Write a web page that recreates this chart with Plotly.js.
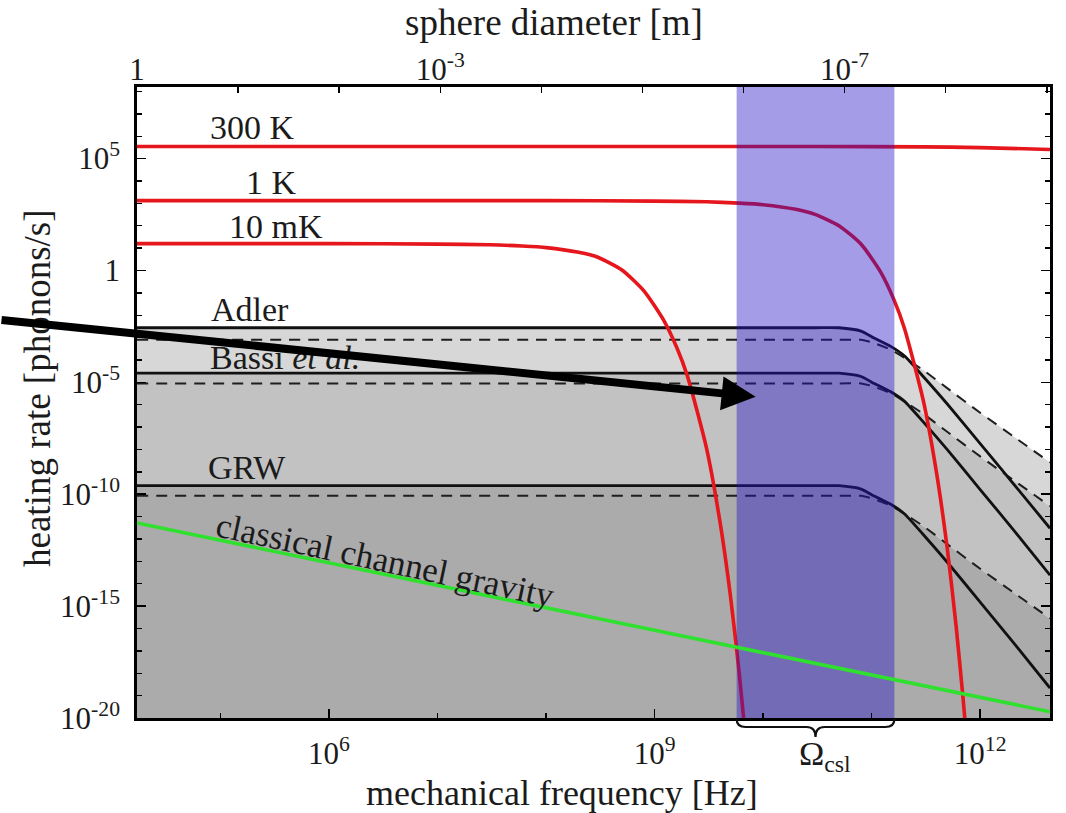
<!DOCTYPE html>
<html>
<head>
<meta charset="utf-8">
<script src="https://cdn.plot.ly/plotly-3.0.1.min.js"></script>
<style>html,body{margin:0;padding:0;background:#fff}#chart{width:1066px;height:813px}</style>
</head>
<body>
<div id="chart"></div>
<script>
// ---------------- data ----------------
// axis spans
const freqSpan = [1.7e4, 4.4e12];     // mechanical frequency [Hz]
const rateSpan = [1e-20, 1.58e8];     // heating rate [phonons/s]
const diamSpan = [1, 9.3e-10];        // sphere diameter [m] (top axis)

// thermal-bath heating curves
const bath300KFreq = [1.7e4, 1e8, 3e10, 3e11, 1e12, 4.4e12];
const bath300KRate = [3.45e5, 3.45e5, 3.45e5, 3.35e5, 3.1e5, 2.55e5];

const bath1KFreq = [1.7e4, 1e6, 1e8, 1e9, 3e9, 6e9, 1e10, 2e10, 3e10, 5e10, 8e10, 1.2e11, 1.6e11, 2e11, 3e11, 4e11, 5e11, 6e11, 7e11, 7.5e11];
const bath1KRate = [1.32e3, 1.32e3, 1.32e3, 1.26e3, 1.17e3, 1.02e3, 8.7e2, 5.4e2, 3.2e2, 1.0e2, 14.8, 0.91, 5.1e-2, 2.7e-3, 1.45e-6, 6.8e-10, 3.1e-13, 1.3e-16, 5.4e-20, 1.1e-21];

const bath10mKFreq = [1.7e4, 1e5, 1e6, 1e7, 3e7, 6e7, 1e8, 2e8, 3e8, 5e8, 8e8, 1.2e9, 1.6e9, 2e9, 3e9, 4e9, 5e9, 6e9, 7e9, 7.5e9];
const bath10mKRate = [15.8, 15.8, 15.8, 15.1, 14.1, 12.3, 10.5, 6.46, 3.89, 1.05, 0.12, 6.5e-3, 3.6e-4, 2.0e-5, 1.2e-8, 6.0e-12, 2.8e-15, 1.2e-18, 5.0e-22, 1.0e-23];

// collapse-model heating (solid and dashed variants share one frequency grid)
const cslFreq = [1.7e4, 1e8, 1e10, 3e10, 5e10, 8e10, 1e11, 1.5e11, 2e11, 3e11, 5e11, 1e12, 2e12, 4.4e12];
const adlerSolid  = [2.75e-3, 2.75e-3, 2.75e-3, 2.75e-3, 2.75e-3, 1.95e-3, 1.10e-3, 4.07e-4, 1.55e-4, 1.78e-5, 1.05e-6, 1.82e-8, 3.16e-10, 3.02e-12];
const adlerDashed = [7.94e-4, 7.94e-4, 7.94e-4, 7.94e-4, 7.94e-4, 7.94e-4, 6.17e-4, 2.88e-4, 1.26e-4, 3.47e-5, 5.37e-6, 4.37e-7, 3.98e-8, 2.63e-9];
const bassiSolid  = [2.57e-5, 2.57e-5, 2.57e-5, 2.57e-5, 2.57e-5, 1.82e-5, 1.02e-5, 3.80e-6, 1.45e-6, 1.66e-7, 9.55e-9, 1.62e-10, 2.75e-12, 2.40e-14];
const bassiDashed = [8.91e-6, 8.91e-6, 8.91e-6, 8.91e-6, 8.91e-6, 8.91e-6, 6.92e-6, 3.24e-6, 1.41e-6, 3.89e-7, 6.03e-8, 4.90e-9, 4.47e-10, 2.95e-11];
const grwSolid    = [2.40e-10, 2.40e-10, 2.40e-10, 2.40e-10, 2.40e-10, 1.70e-10, 9.55e-11, 3.55e-11, 1.35e-11, 1.55e-12, 8.91e-14, 1.51e-15, 2.51e-17, 2.19e-19];
const grwDashed   = [8.51e-11, 8.51e-11, 8.51e-11, 8.51e-11, 8.51e-11, 8.51e-11, 6.61e-11, 3.09e-11, 1.35e-11, 3.72e-12, 5.75e-13, 4.68e-14, 4.27e-15, 2.82e-16];

// classical channel gravity
const gravityFreq = [1.7e4, 1e9, 4.4e12];
const gravityRate = [5.2e-12, 8.3e-17, 1.9e-20];

// frequency window Omega_csl
const cslBand = [5.7e9, 1.62e11];

// tick labels
const freqMajor = [1e6, 1e9, 1e12];
const freqMajorText = ['10<sup>6</sup>', '10<sup>9</sup>', '10<sup>12</sup>'];
const rateMajor = [1e-20, 1e-15, 1e-10, 1e-5, 1, 1e5];
const rateMajorText = ['10<sup>-20</sup>', '10<sup>-15</sup>', '10<sup>-10</sup>', '10<sup>-5</sup>', '1', '10<sup>5</sup>'];
const diamTicks = [1, 1e-1, 1e-2, 1e-3, 1e-4, 1e-5, 1e-6, 1e-7, 1e-8, 1e-9];
const diamTickText = ['1', '', '', '10<sup>-3</sup>', '', '', '', '10<sup>-7</sup>', '', ''];

// ---------------- drawing ----------------
const LOG = Math.log10;
const SERIF = 'Liberation Serif, Times New Roman, serif';
const INK = '#1b1b1b';
const W = 1066, H = 813, M = {l: 137, r: 16, t: 87, b: 95};
const plotW = W - M.l - M.r, plotH = H - M.t - M.b;
const xr = [LOG(freqSpan[0]), LOG(freqSpan[1])];
const yr = [LOG(rateSpan[0]), LOG(rateSpan[1])];

const envelope = (p, q) => p.map((v, i) => Math.max(v, q[i]));
const adlerEnv = envelope(adlerSolid, adlerDashed);
const bassiEnv = envelope(bassiSolid, bassiDashed);
const grwEnv = envelope(grwSolid, grwDashed);

function fillTrace(y, color) {
  return {x: cslFreq, y: y, mode: 'lines', line: {width: 0, shape: 'spline', smoothing: 0.6},
          fill: 'tonexty', fillcolor: color, hoverinfo: 'skip'};
}
function curve(x, y, color, width, dash) {
  return {x: x, y: y, mode: 'lines', hoverinfo: 'skip',
          line: {color: color, width: width, dash: dash || 'solid', shape: 'spline', smoothing: 0.6}};
}

const traces = [
  // floor for the shaded areas
  {x: freqSpan, y: [rateSpan[0], rateSpan[0]], mode: 'lines', line: {width: 0}, hoverinfo: 'skip'},
  fillTrace(grwEnv, '#ababab'),
  fillTrace(bassiEnv, '#c2c2c2'),
  fillTrace(adlerEnv, '#d7d7d7'),
  curve(cslFreq, adlerDashed, '#1e1e1e', 2, '11px,8px'),
  curve(cslFreq, bassiDashed, '#1e1e1e', 2, '11px,8px'),
  curve(cslFreq, grwDashed, '#1e1e1e', 2, '11px,8px'),
  curve(cslFreq, adlerSolid, '#111', 2.8),
  curve(cslFreq, bassiSolid, '#111', 2.8),
  curve(cslFreq, grwSolid, '#111', 2.8),
  curve(bath300KFreq, bath300KRate, '#e5161c', 3.6),
  curve(bath1KFreq, bath1KRate, '#e5161c', 3.6),
  curve(bath10mKFreq, bath10mKRate, '#e5161c', 3.6),
  // Omega_csl window
  {x: [cslBand[0], cslBand[0], cslBand[1], cslBand[1]],
   y: [rateSpan[0], rateSpan[1], rateSpan[1], rateSpan[0]],
   mode: 'lines', line: {width: 0}, fill: 'toself', fillcolor: 'rgba(40,20,200,0.42)', hoverinfo: 'skip'},
  curve(gravityFreq, gravityRate, '#2fe02f', 3.6),
  // carries the diameter axis
  {x: diamSpan, y: rateSpan, xaxis: 'x2', mode: 'markers', marker: {opacity: 0}, hoverinfo: 'skip'}
];

// paper-coordinate helpers
const paperX = v => (LOG(v) - xr[0]) / (xr[1] - xr[0]);
const pxX = 1 / plotW, pxY = 1 / plotH;

function bracePath(v0, v1) {
  const x0 = paperX(v0), x1 = paperX(v1), xm = (x0 + x1) / 2;
  const yTop = -1 * pxY, yMid = -9 * pxY, yTip = -19 * pxY;
  return `M${x0},${yTop} Q${x0},${yMid} ${x0 + 9 * pxX},${yMid} L${xm - 9 * pxX},${yMid} ` +
         `Q${xm},${yMid} ${xm},${yTip} Q${xm},${yMid} ${xm + 9 * pxX},${yMid} ` +
         `L${x1 - 9 * pxX},${yMid} Q${x1},${yMid} ${x1},${yTop}`;
}

const label = (text, x, y, extra) => Object.assign({
  text: text, x: x, y: y, xref: 'x', yref: 'y', showarrow: false,
  font: {family: SERIF, size: 34, color: INK}, xanchor: 'center', yanchor: 'middle'
}, extra || {});

const title = (text, x, y, size, extra) => Object.assign({
  text: text, x: x, y: y, xref: 'paper', yref: 'paper', showarrow: false,
  xanchor: 'center', yanchor: 'middle', font: {family: SERIF, size: size, color: INK}
}, extra || {});

const bandMid = Math.sqrt(cslBand[0] * cslBand[1]);

const annotations = [
  label('300 K', 5.295, 6.386),
  label('1 K', 5.47, 3.93),
  label('10 mK', 5.507, 1.96),
  label('Adler', 5.276, -1.75),
  label('Bassi <i>et al.</i>', 4.889, -3.90, {xanchor: 'left'}),
  label('GRW', 5.24, -8.82),
  label('classical channel gravity', 6.52, -12.95, {textangle: 12, font: {family: SERIF, size: 35, color: INK}}),
  title('Ω<sub>csl</sub>', paperX(bandMid), -15 * pxY, 34, {xshift: 9, yanchor: 'top'}),
  // axis titles
  title('mechanical frequency [Hz]', 0.4655, -0.119, 36),
  title('sphere diameter [m]', 0.4567, 1.103, 37),
  title('heating rate [phonons/s]', -0.1084, 0.523, 37, {textangle: -90}),
  // pointer into the Omega_csl window
  {text: '', x: 9.931, y: -5.644, xref: 'x', yref: 'y', ax: -756, ay: -77,
   showarrow: true, arrowhead: 2, arrowsize: 0.85, arrowwidth: 8, arrowcolor: '#000', standoff: 0}
];

const tickFont = {family: SERIF, size: 31, color: INK};

const layout = {
  width: W, height: H,
  margin: M,
  paper_bgcolor: '#fff', plot_bgcolor: '#fff',
  showlegend: false,
  hovermode: false,
  xaxis: {
    type: 'log', range: xr, showgrid: false, zeroline: false,
    showline: true, linecolor: '#000', linewidth: 2.8, mirror: false,
    ticks: 'inside', ticklen: 9, tickwidth: 1.6, tickcolor: '#000',
    tickmode: 'array', tickvals: freqMajor, ticktext: freqMajorText,
    tickfont: tickFont, ticklabelstandoff: 6,
    minor: {tickmode: 'array', tickvals: [1e5, 1e7, 1e8, 1e10, 1e11], ticks: 'inside', ticklen: 5, tickwidth: 1.4, tickcolor: '#000'}
  },
  xaxis2: {
    type: 'log', range: [LOG(diamSpan[0]), LOG(diamSpan[1])], overlaying: 'x', side: 'top', anchor: 'y',
    showgrid: false, zeroline: false, showline: true, linecolor: '#000', linewidth: 2.8,
    ticks: 'inside', ticklen: 6, tickwidth: 1.5, tickcolor: '#000',
    tickmode: 'array', tickvals: diamTicks, ticktext: diamTickText,
    tickfont: tickFont, ticklabelstandoff: -8
  },
  yaxis: {
    type: 'log', range: yr, showgrid: false, zeroline: false,
    showline: true, linecolor: '#000', linewidth: 2.8, mirror: 'ticks',
    ticks: 'inside', ticklen: 9, tickwidth: 1.6, tickcolor: '#000',
    tickmode: 'array', tickvals: rateMajor, ticktext: rateMajorText,
    tickfont: tickFont, ticklabelstandoff: 8,
    minor: {tickmode: 'array',
            tickvals: [-19,-18,-17,-16,-14,-13,-12,-11,-9,-8,-7,-6,-4,-3,-2,-1,1,2,3,4,6,7,8].map(e => Math.pow(10, e)),
            ticks: 'inside', ticklen: 5, tickwidth: 1.4, tickcolor: '#000'}
  },
  shapes: [
    {type: 'path', xref: 'paper', yref: 'paper', path: bracePath(cslBand[0], cslBand[1]),
     line: {color: '#111', width: 2.2}, layer: 'above'}
  ],
  annotations: annotations
};

Plotly.newPlot('chart', traces, layout, {staticPlot: true, displayModeBar: false});
</script>
</body>
</html>
